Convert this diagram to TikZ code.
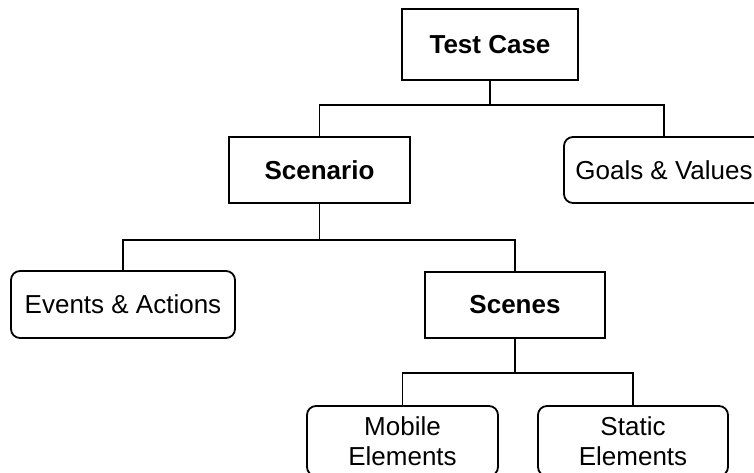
\documentclass[tikz,border=0pt]{standalone}
\usepackage{fontspec}
\setmainfont{Liberation Sans}
\usetikzlibrary{positioning}
\tikzstyle{block} = [draw, line width=1.8pt, fill=white, align=center, inner sep=0pt, font=\fontsize{26}{30}\selectfont]
\tikzstyle{head} = [block, font=\fontsize{26}{30}\selectfont\bfseries]
\tikzstyle{leaf} = [block, rounded corners=9pt]
\tikzstyle{link} = [line width=1.8pt]

\begin{document}
\begin{tikzpicture}[x=1pt,y=-1pt]
    \useasboundingbox (0,0) rectangle (754,472);
    % levels
    \node[head, minimum width=176pt, minimum height=71pt] (test) at (490,44.5) {Test Case};
    \node[head, minimum width=181pt, minimum height=66pt] (scen) at (319.5,170) {Scenario};
    \node[leaf, minimum width=200pt, minimum height=66pt] (goals) at (664,170) {Goals \& Values};
    \node[leaf, minimum width=224pt, minimum height=67pt] (events) at (123,304.5) {Events \& Actions};
    \node[head, minimum width=180pt, minimum height=66pt] (scenes) at (515,305) {Scenes};
    \node[leaf, minimum width=191pt, minimum height=70pt] (mobile) at (402.5,441) {Mobile\\Elements};
    \node[leaf, minimum width=190pt, minimum height=70pt] (static) at (633,441) {Static\\Elements};
    % connectors
    \draw[link] (test.south) -- ++(0,24) -| (scen.north);
    \draw[link] (test.south) -- ++(0,24) -| (goals.north);
    \draw[link] (scen.south) -- ++(0,36) -| (events.north);
    \draw[link] (scen.south) -- ++(0,36) -| (scenes.north);
    \draw[link] (scenes.south) -- ++(0,34) -| (mobile.north);
    \draw[link] (scenes.south) -- ++(0,34) -| (static.north);
\end{tikzpicture}
\end{document}
